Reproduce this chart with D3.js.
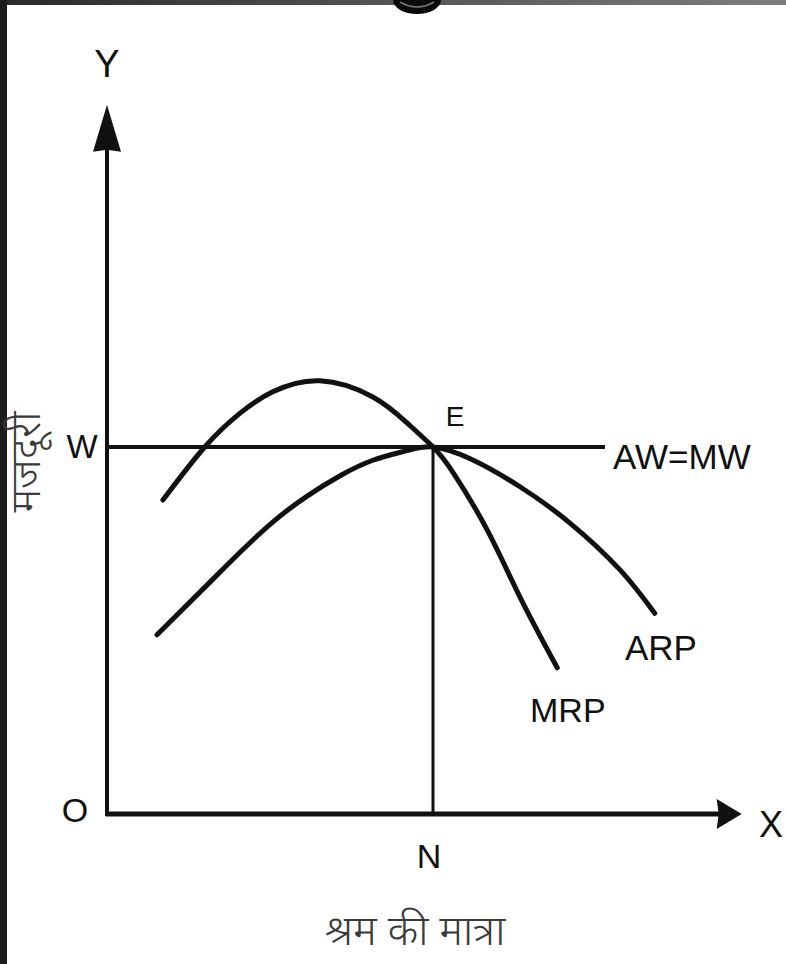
<!DOCTYPE html>
<html>
<head>
<meta charset="utf-8">
<script src="https://cdn.jsdelivr.net/npm/d3@7"></script>
<style>
  html, body { margin: 0; padding: 0; background: #fff; }
  svg { display: block; }
  .lbl { font-family: "Liberation Sans", Arial, sans-serif; fill: #111; }
  .hin { font-family: "Noto Sans Devanagari", "Noto Serif Devanagari", "Lohit Devanagari", "Mangal", "FreeSans", sans-serif; fill: #3a3a3a; font-weight: 300; }
</style>
</head>
<body>
<script>
// ---- data (in chart units) ----
const mrpX = [0.87, 1.51, 2.05, 2.55, 3.27, 4.08, 4.60, 5.00, 5.31, 5.83, 6.33, 6.90];
const mrpY = [4.28, 5.00, 5.46, 5.75, 5.90, 5.68, 5.33, 5.00, 4.65, 3.87, 2.96, 2.00];
const arpX = [0.78, 1.54, 2.05, 2.55, 3.07, 3.58, 4.08, 4.60, 5.00, 5.57, 6.33, 7.09, 7.86, 8.39];
const arpY = [2.45, 3.12, 3.57, 3.98, 4.33, 4.61, 4.82, 4.95, 5.00, 4.84, 4.46, 3.97, 3.33, 2.74];
const wageLevel = 5.0;      // W
const labourN = 5.0;        // N
const wageLineEnd = 7.63;
const xAxisEnd = 9.72;
const yAxisEnd = 9.65;
const curveNames = ["MRP", "ARP"];
const axisNames = ["X", "Y", "O", "W", "N", "E", "AW=MW"];
const yTitle = "मजदूरी";
const xTitle = "श्रम की मात्रा";

const W = 786, H = 964;
const svg = d3.select("body").append("svg").attr("width", W).attr("height", H);

// frame (dark photo border)
const defs = svg.append("defs");
const g1 = defs.append("linearGradient").attr("id", "topband");
g1.append("stop").attr("offset", "0%").attr("stop-color", "#2a2a2a");
g1.append("stop").attr("offset", "100%").attr("stop-color", "#7e7e7e");
svg.append("rect").attr("x", 0).attr("y", 0).attr("width", W).attr("height", 5).attr("fill", "url(#topband)");
svg.append("rect").attr("x", 0).attr("y", 0).attr("width", 7).attr("height", H).attr("fill", "#1c1c1c");
// cut-off title glyph at the top
svg.append("ellipse").attr("cx", 417).attr("cy", 0).attr("rx", 24).attr("ry", 14).attr("fill", "#0a0a0a");
svg.append("path").attr("d", "M400,2 Q417,12 434,2").attr("fill", "none").attr("stroke", "#777").attr("stroke-width", 1.5);

// scales
const x = d3.scaleLinear().domain([0, 10]).range([106, 760]);
const y = d3.scaleLinear().domain([0, 10]).range([815, 79]);

const ink = "#111";

// axes
svg.append("line").attr("x1", x(0) + 1).attr("y1", y(0) + 1).attr("x2", x(0) + 1).attr("y2", y(yAxisEnd) + 40)
  .attr("stroke", ink).attr("stroke-width", 4);
svg.append("line").attr("x1", x(0)).attr("y1", y(0) - 1).attr("x2", x(xAxisEnd) - 20).attr("y2", y(0) - 1)
  .attr("stroke", ink).attr("stroke-width", 5);
// arrowheads
const ty = y(yAxisEnd), tx = x(0) + 1;
svg.append("path").attr("d", `M${tx},${ty} L${tx - 14},${ty + 47} L${tx},${ty + 45} L${tx + 14},${ty + 47} Z`).attr("fill", ink);
const ax = x(xAxisEnd), ay = y(0) - 1;
svg.append("path").attr("d", `M${ax},${ay} L${ax - 25},${ay - 15} L${ax - 23},${ay} L${ax - 25},${ay + 15} Z`).attr("fill", ink);

// W line and N line
svg.append("line").attr("x1", x(0)).attr("y1", y(wageLevel)).attr("x2", x(wageLineEnd)).attr("y2", y(wageLevel))
  .attr("stroke", ink).attr("stroke-width", 4);
svg.append("line").attr("x1", x(labourN)).attr("y1", y(wageLevel)).attr("x2", x(labourN)).attr("y2", y(0))
  .attr("stroke", ink).attr("stroke-width", 3);

// curves
const line = d3.line().x(d => x(d[0])).y(d => y(d[1])).curve(d3.curveNatural);
const mrp = mrpX.map((v, i) => [v, mrpY[i]]);
const arp = arpX.map((v, i) => [v, arpY[i]]);
[mrp, arp].forEach(pts => {
  svg.append("path").datum(pts).attr("d", line).attr("fill", "none")
    .attr("stroke", ink).attr("stroke-width", 5).attr("stroke-linecap", "round");
});

// labels
const lab = (t, px, py, size, anchor) => svg.append("text").attr("class", "lbl")
  .attr("x", px).attr("y", py).attr("font-size", size).attr("text-anchor", anchor || "start").text(t);
lab(axisNames[1], 107, 77, 38, "middle");
lab(axisNames[0], 771, 837, 36, "middle");
lab(axisNames[2], 75, 822, 34, "middle");
lab(axisNames[3], 82, 458, 33, "middle");
lab(axisNames[4], 429, 868, 34, "middle");
lab(axisNames[5], 455, 426, 28, "middle");
lab(axisNames[6], 613, 469, 35, "start");
lab(curveNames[0], 530, 722, 34, "start");
lab(curveNames[1], 625, 660, 35, "start");

// Hindi axis titles
svg.append("text").attr("class", "hin").attr("font-size", 42)
  .attr("transform", "translate(40,462) rotate(-90)").attr("text-anchor", "middle").text(yTitle);
svg.append("text").attr("class", "hin").attr("font-size", 42)
  .attr("x", 415).attr("y", 945).attr("text-anchor", "middle").text(xTitle);
</script>
</body>
</html>
